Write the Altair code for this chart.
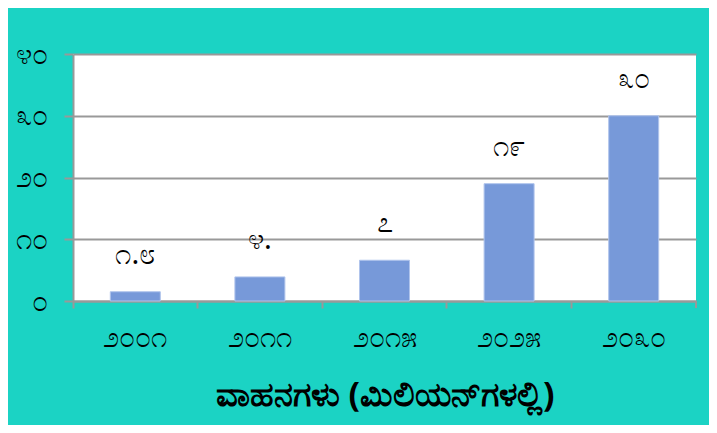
import altair as alt
import pandas as pd

years = ["೨೦೦೧", "೨೦೧೧", "೨೦೧೫", "೨೦೨೫", "೨೦೩೦"]
values = [1.5, 3.9, 6.6, 19, 30]
value_labels = ["೧.೮", "೪.", "೭", "೧೯", "೩೦"]
y_ticks = [0, 10, 20, 30, 40]
y_tick_labels = ["೦", "೧೦", "೨೦", "೩೦", "೪೦"]
x_title = "ವಾಹನಗಳು (ಮಿಲಿಯನ್‌ಗಳಲ್ಲಿ)"

df = pd.DataFrame({"year": years, "value": values, "label": value_labels})

W, H = 623, 247
FS = 29
label_expr = "[" + ",".join("'%s'" % s for s in y_tick_labels) + "][round(datum.value/10)]"

x_enc = alt.X(
    "year:N", sort=years,
    scale=alt.Scale(paddingInner=0, paddingOuter=0),
    axis=alt.Axis(
        title=x_title, titleFontSize=34, titleFontWeight="bold", titleColor="black",
        titlePadding=26, labelAngle=0, labelFontSize=FS, labelColor="black",
        labelPadding=15, bandPosition=0, tickSize=7, tickWidth=2, tickColor="#999999",
        domainColor="#999999", domainWidth=2, grid=False,
    ),
)
y_enc = alt.Y(
    "value:Q",
    scale=alt.Scale(domain=[0, 40], nice=False),
    axis=alt.Axis(
        title=None, values=y_ticks, labelExpr=label_expr, labelFontSize=FS,
        labelColor="black", labelPadding=17, tickSize=9, tickWidth=2,
        tickColor="#999999", domainColor="#999999", domainWidth=2,
        gridColor="#999999", gridWidth=2,
    ),
)

bars = alt.Chart(df).mark_bar(size=50, color="#7799D9", stroke="#B0C4EC", strokeWidth=1).encode(
    x=x_enc, y=y_enc
)
texts = alt.Chart(df).mark_text(fontSize=FS, font="Noto Sans", color="black", dy=-37, baseline="middle").encode(
    x=alt.X("year:N", sort=years), y="value:Q", text="label:N"
)
end_tick = alt.Chart(df).mark_rule(color="#999999", strokeWidth=2).encode(
    x=alt.value(W), y=alt.value(H), y2=alt.value(H + 7)
)

chart = alt.layer(bars, texts, end_tick).properties(
    width=W, height=H,
    background="#1BD3C4",
    padding={"left": 65, "top": 46, "right": 13, "bottom": 124},
    autosize=alt.AutoSizeParams(type="none"),
).configure_view(stroke=None, fill="white").configure_axis(
    labelFont="Noto Sans", titleFont="Noto Sans"
)

chart.save("out.html", embed_options={"renderer": "svg", "actions": False})
